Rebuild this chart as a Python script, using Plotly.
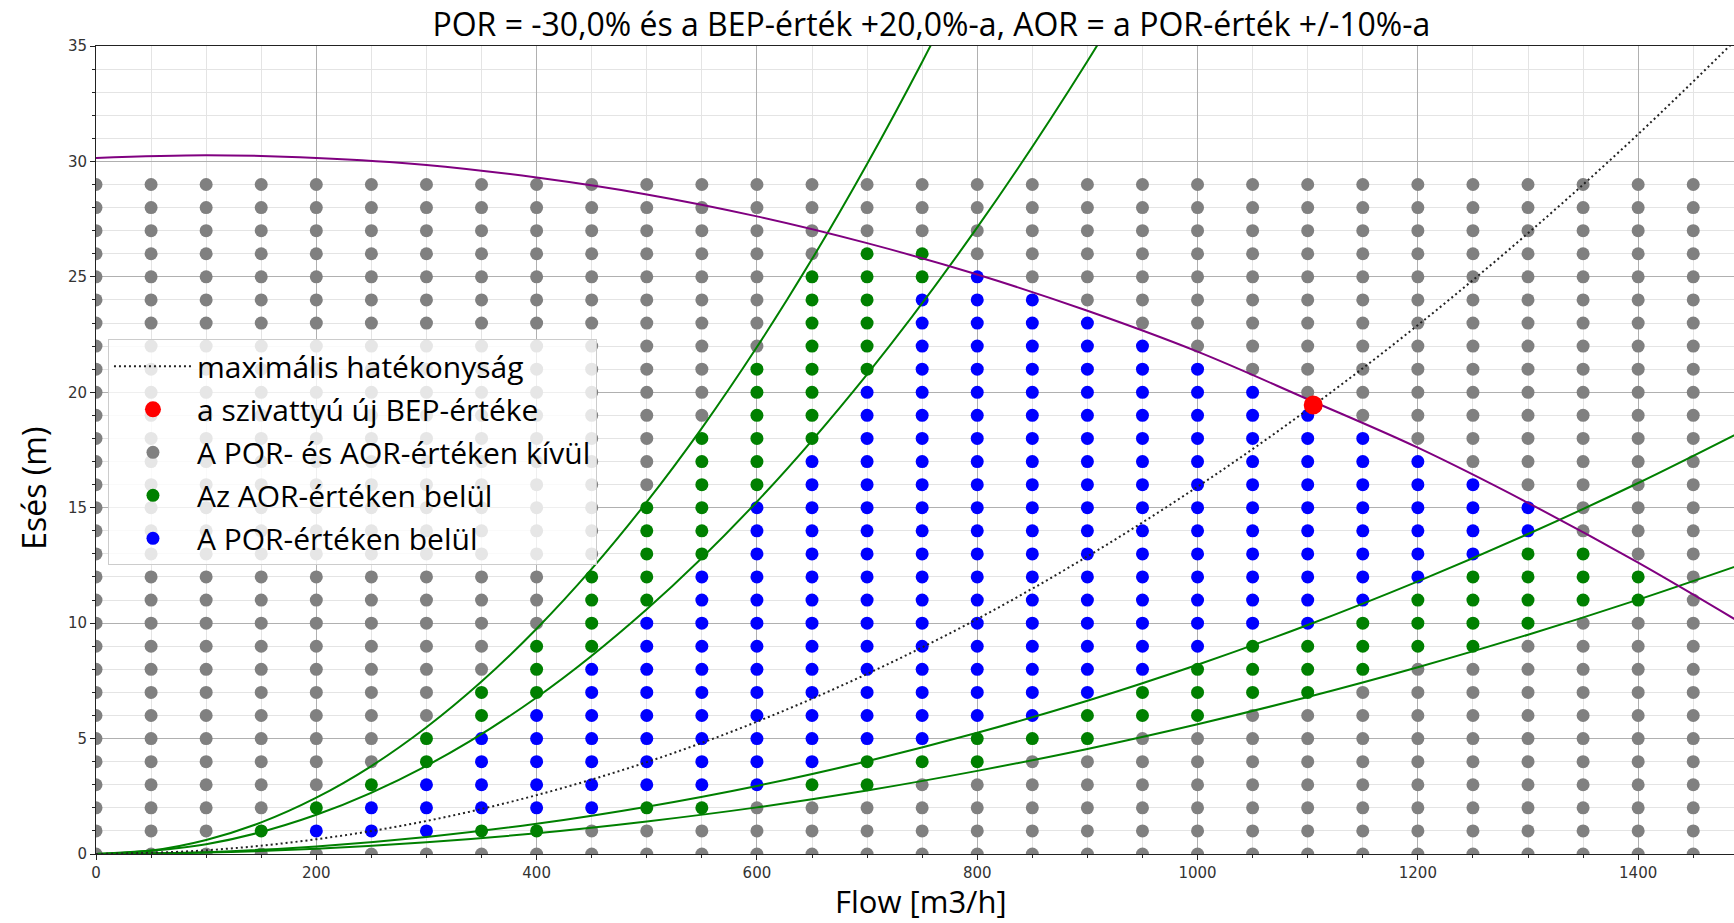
import plotly.graph_objects as go

# ---- data ----
flow_cols = [0, 50, 100, 150, 200, 250, 300, 350, 400, 450, 500, 550, 600, 650, 700,
             750, 800, 850, 900, 950, 1000, 1050, 1100, 1150, 1200, 1250, 1300, 1350, 1400, 1450]
head_rows = list(range(30))
# status of each dot per column, index = head row (0..29); '.' outside, 'a' AOR, 'p' POR
status_cols = [
    "", "", "",
    ".a",
    ".pa",
    ".ppa",
    ".pppaa",
    ".appppaa",
    ".apppppaaa",
    "..pppppppaaaa",
    "..appppppppaaaaa",
    "..appppppppppaaaaaa",
    "...pppppppppppppaaaaaa",
    "...appppppppppppppaaaaaaaa",
    "...aappppppppppppppppaaaaaa",
    "....appppppppppppppppppppaa",
    "....aapppppppppppppppppppp",
    ".....appppppppppppppppppp",
    ".....aappppppppppppppppp",
    "......aappppppppppppppp",
    "......aaappppppppppppp",
    ".......aaappppppppppp",
    ".......aaapppppppppp",
    "........aaapppppppp",
    ".........aaapppppp",
    ".........aaaapppp",
    "..........aaaapp",
    "...........aaa",
    "...........aa",
    "",
]

bep_flow = [1105]
bep_head = [19.45]

curve_flow = [0, 100, 200, 300, 400, 500, 600, 700, 800, 900, 1000, 1100, 1200, 1300, 1400, 1500]
pump_head = [30.15, 30.27, 30.15, 29.85, 29.30, 28.57, 27.62, 26.46, 25.10, 23.53, 21.76,
             19.70, 17.60, 15.21, 12.62, 9.82]
system_head = [0.0, 0.16, 0.64, 1.43, 2.55, 3.98, 5.73, 7.80, 10.18, 12.89, 15.91, 19.25,
               22.91, 26.89, 31.18, 35.80]

aor_low_flow = [0, 50, 100, 150, 200, 250, 300, 350, 400, 450, 500, 550, 600, 650, 700, 750, 800]
aor_low_head = [0.0, 0.15, 0.61, 1.37, 2.44, 3.81, 5.49, 7.47, 9.76, 12.35, 15.25, 18.45,
                21.96, 25.77, 29.89, 34.31, 39.04]
por_low_flow = [0, 100, 200, 300, 400, 500, 600, 700, 800, 900, 1000]
por_low_head = [0.0, 0.42, 1.70, 3.82, 6.78, 10.60, 15.26, 20.78, 27.14, 34.34, 42.40]
por_high_head = [0.0, 0.08, 0.33, 0.74, 1.31, 2.05, 2.95, 4.02, 5.25, 6.64, 8.20, 9.92,
                 11.81, 13.86, 16.07, 18.45]
aor_high_head = [0.0, 0.06, 0.23, 0.51, 0.90, 1.41, 2.02, 2.75, 3.60, 4.55, 5.62, 6.80,
                 8.09, 9.50, 11.02, 12.65]

x_ticks = [0, 200, 400, 600, 800, 1000, 1200, 1400]
y_ticks = [0, 5, 10, 15, 20, 25, 30, 35]

title_text = "POR = -30,0% és a BEP-érték +20,0%-a, AOR = a POR-érték +/-10%-a"
legend_names = ["maximális hatékonyság", "a szivattyú új BEP-értéke",
                "A POR- és AOR-értéken kívül", "Az AOR-értéken belül", "A POR-értéken belül"]

# ---- split dots by status ----
pts = {".": ([], []), "a": ([], []), "p": ([], [])}
for q, s in zip(flow_cols, status_cols):
    s = s.ljust(len(head_rows), ".")
    for h, c in zip(head_rows, s):
        pts[c][0].append(q)
        pts[c][1].append(h)

LFONT = "Open Sans"
fig = go.Figure()
dot_size = 13
for key, color, name, rank in [(".", "#808080", legend_names[2], 3),
                               ("a", "#008000", legend_names[3], 4),
                               ("p", "#0000ff", legend_names[4], 5)]:
    fig.add_trace(go.Scatter(x=pts[key][0], y=pts[key][1], mode="markers",
                             marker=dict(size=dot_size, color=color),
                             name=name, legendgroup=name, legendrank=rank))

for fx, fy in [(aor_low_flow, aor_low_head), (por_low_flow, por_low_head),
               (curve_flow, por_high_head), (curve_flow, aor_high_head)]:
    fig.add_trace(go.Scatter(x=fx, y=fy, mode="lines", line=dict(color="#008000", width=2, shape="spline"),
                             showlegend=False, hoverinfo="skip"))
fig.add_trace(go.Scatter(x=curve_flow, y=pump_head, mode="lines",
                         line=dict(color="#800080", width=2, shape="spline"),
                         showlegend=False))
fig.add_trace(go.Scatter(x=curve_flow, y=system_head, mode="lines",
                         line=dict(color="#222222", width=2, dash="2px,3px", shape="spline"),
                         name=legend_names[0], legendgroup=legend_names[0], legendrank=1))
fig.add_trace(go.Scatter(x=bep_flow, y=bep_head, mode="markers",
                         marker=dict(size=19, color="#ff0000"),
                         name=legend_names[1], legendgroup=legend_names[1], legendrank=2))

axis_common = dict(showline=True, linecolor="#222222", linewidth=1, ticks="outside",
                   ticklen=5, tickcolor="#222222", gridcolor="#b0b0b0", gridwidth=1,
                   zeroline=False, tickfont=dict(family="DejaVu Sans", size=15, color="#333333"))
fig.update_layout(
    width=1734, height=923,
    margin=dict(l=96, r=0, t=46, b=69),
    paper_bgcolor="white", plot_bgcolor="white",
    title=dict(text=title_text, x=0.51, xref="paper", xanchor="center", y=0.973, yanchor="middle",
               font=dict(family=LFONT, size=32, color="black")),
    xaxis=dict(range=[0, 1487], tickvals=x_ticks, mirror=True,
               minor=dict(dtick=50, tick0=0, showgrid=True, gridcolor="#e4e4e4", ticks="outside",
                          ticklen=3, tickcolor="#222222"),
               **axis_common),
    yaxis=dict(range=[0, 35], tickvals=y_ticks,
               minor=dict(dtick=1, tick0=0, showgrid=True, gridcolor="#e4e4e4", ticks="outside",
                          ticklen=3, tickcolor="#222222"),
               **axis_common),
    legend=dict(x=0.0073, y=0.637, xanchor="left", yanchor="top",
                bgcolor="rgba(255,255,255,0.8)", bordercolor="#cccccc", borderwidth=1,
                font=dict(family=LFONT, size=30, color="black"),
                traceorder="grouped", tracegroupgap=1, itemwidth=78),
    annotations=[
        dict(text="Esés (m)", xref="paper", yref="paper", x=-0.038, y=0.453,
             xanchor="center", yanchor="middle", textangle=-90, showarrow=False,
             font=dict(family=LFONT, size=32, color="black")),
        dict(text="Flow [m3/h]", xref="paper", yref="paper", x=0.5037, y=-0.058,
             xanchor="center", yanchor="middle", showarrow=False,
             font=dict(family=LFONT, size=31, color="black")),
    ],
    showlegend=True,
)

fig.write_html("out.html")
